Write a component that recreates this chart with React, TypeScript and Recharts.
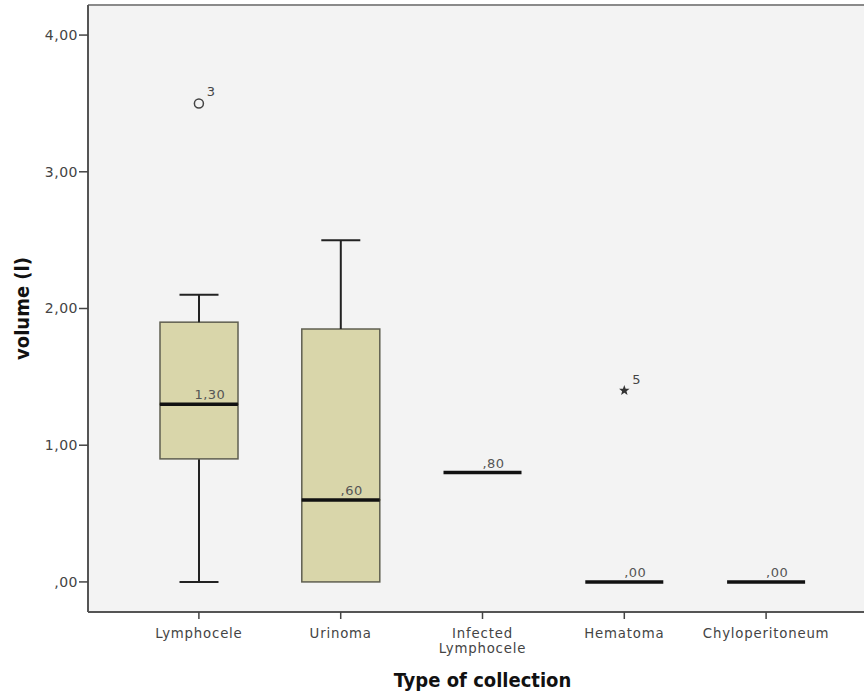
import { ComposedChart, Bar, Scatter, XAxis, YAxis, CartesianGrid, ReferenceLine, Label } from "recharts";

// one box per collection type, values in litres
const categories = ["Lymphocele", "Urinoma", "Infected\nLymphocele", "Hematoma", "Chyloperitoneum"];
const whiskerLow = [0, 0, 0.8, 0, 0];
const q1 = [0.9, 0, 0.8, 0, 0];
const medians = [1.3, 0.6, 0.8, 0, 0];
const q3 = [1.9, 1.85, 0.8, 0, 0];
const whiskerHigh = [2.1, 2.5, 0.8, 0, 0];
const outliers: (number | null)[] = [3.5, null, null, 1.4, null];
const outlierCase = ["3", "", "", "5", ""];
const outlierKind = ["circle", "", "", "star", ""];
const yTicks = [0, 1, 2, 3, 4];
const yDomain: [number, number] = [-0.22, 4.22];

const FONT = "'DejaVu Sans', Verdana, sans-serif";
const TITLE_FONT = "'DejaVu Sans Condensed', 'Liberation Sans Narrow', 'DejaVu Sans', sans-serif";
const BOX_W = 78;
const CAP_W = 39;

const fmt = (v: number) => {
  const s = v.toFixed(2).replace(".", ",");
  return s.startsWith("0,") ? s.slice(1) : s;
};

const data = categories.map((name, i) => ({
  name,
  base: whiskerLow[i],
  lowW: q1[i] - whiskerLow[i],
  boxLo: medians[i] - q1[i],
  boxHi: q3[i] - medians[i],
  upW: whiskerHigh[i] - q3[i],
  median: medians[i],
  outlier: outliers[i],
  caseNo: outlierCase[i],
  kind: outlierKind[i],
}));

const Empty = () => <g />;

const BoxShape = (p: any) => {
  if (!p.height || p.height <= 0.5) return <g />;
  return <rect x={p.x} y={p.y} width={p.width} height={p.height} fill="#d9d6aa" stroke="#5f5f50" strokeWidth={1.5} />;
};

const whisker = (capAtTop: boolean) => (p: any) => {
  if (!p.height || p.height <= 0.5) return <g />;
  const cx = p.x + p.width / 2;
  const capY = capAtTop ? p.y : p.y + p.height;
  return (
    <g stroke="#222" strokeWidth={2}>
      <line x1={cx} y1={p.y} x2={cx} y2={p.y + p.height} />
      <line x1={cx - CAP_W / 2} y1={capY} x2={cx + CAP_W / 2} y2={capY} />
    </g>
  );
};

const MedianShape = (p: any) => {
  if (!Number.isFinite(p.cy)) return <g />;
  return (
    <g>
      <line x1={p.cx - BOX_W / 2} y1={p.cy} x2={p.cx + BOX_W / 2} y2={p.cy} stroke="#111" strokeWidth={3.5} />
      <text x={p.cx + 11} y={p.cy - 5} textAnchor="middle" fill="#555" fontSize={13} fontFamily={FONT} letterSpacing={0.5}>
        {fmt(p.payload.median)}
      </text>
    </g>
  );
};

const OutlierShape = (p: any) => {
  if (!Number.isFinite(p.cy) || p.payload.outlier == null) return <g />;
  const { cx, cy } = p;
  let mark;
  if (p.payload.kind === "star") {
    const pts: string[] = [];
    for (let k = 0; k < 10; k++) {
      const r = k % 2 === 0 ? 5.5 : 2.3;
      const a = -Math.PI / 2 + (k * Math.PI) / 5;
      pts.push(`${cx + r * Math.cos(a)},${cy + r * Math.sin(a)}`);
    }
    mark = <polygon points={pts.join(" ")} fill="#333" />;
  } else {
    mark = <circle cx={cx} cy={cy} r={4.5} fill="none" stroke="#444" strokeWidth={1.5} />;
  }
  return (
    <g>
      {mark}
      <text x={cx + 12} y={cy - 7} textAnchor="middle" fill="#444" fontSize={13} fontFamily={FONT}>
        {p.payload.caseNo}
      </text>
    </g>
  );
};

const CategoryTick = (p: any) => {
  const lines = String(p.payload.value).split("\n");
  return (
    <text x={p.x} y={p.y} textAnchor="middle" fill="#444" fontSize={13.3} fontFamily={FONT} letterSpacing={0.8}>
      {lines.map((l, i) => (
        <tspan key={i} x={p.x} dy={i === 0 ? 16.5 : 15}>
          {l}
        </tspan>
      ))}
    </text>
  );
};

export default function App() {
  return (
    <div style={{ position: "absolute", left: 0, top: 0, width: 864, height: 694, overflow: "hidden", background: "#fff" }}>
      <ComposedChart width={880} height={694} data={data} margin={{ top: 5, right: 3, bottom: 0, left: 0 }}>
        <CartesianGrid fill="#f3f3f3" vertical={false} horizontal={false} />
        <XAxis
          dataKey="name"
          height={82}
          padding={{ left: 40, right: 40 }}
          axisLine={{ stroke: "#555", strokeWidth: 2 }}
          tickLine={{ stroke: "#444", strokeWidth: 1.5 }}
          tickSize={7}
          tick={<CategoryTick />}
          interval={0}
        >
          <Label
            content={(props: any) => {
              const vb = props.viewBox;
              return (
                <text x={vb.x + vb.width / 2} y={687} textAnchor="middle" fill="#111" fontSize={20} fontWeight="bold" fontFamily={TITLE_FONT}>
                  Type of collection
                </text>
              );
            }}
          />
        </XAxis>
        <YAxis
          type="number"
          width={88}
          domain={yDomain}
          ticks={yTicks}
          allowDataOverflow
          tickFormatter={fmt}
          axisLine={{ stroke: "#555", strokeWidth: 2 }}
          tickLine={{ stroke: "#444", strokeWidth: 1.5 }}
          tickSize={9}
          tickMargin={1}
          tick={{ fill: "#444", fontSize: 14, fontFamily: FONT, letterSpacing: 0.5 }}
        >
          <Label
            content={(props: any) => {
              const vb = props.viewBox;
              const cy = vb.y + vb.height / 2;
              return (
                <text x={22} y={cy} transform={`rotate(-90, 22, ${cy})`} textAnchor="middle" dominantBaseline="central" fill="#111" fontSize={20} fontWeight="bold" fontFamily={TITLE_FONT}>
                  volume (l)
                </text>
              );
            }}
          />
        </YAxis>
        <ReferenceLine y={yDomain[1]} stroke="#8a8a8a" strokeWidth={2} ifOverflow="visible" />
        <Bar dataKey="base" stackId="box" barSize={BOX_W} shape={<Empty />} isAnimationActive={false} />
        <Bar dataKey="lowW" stackId="box" barSize={BOX_W} shape={whisker(false)} isAnimationActive={false} />
        <Bar dataKey="boxLo" stackId="box" barSize={BOX_W} shape={BoxShape} isAnimationActive={false} />
        <Bar dataKey="boxHi" stackId="box" barSize={BOX_W} shape={BoxShape} isAnimationActive={false} />
        <Bar dataKey="upW" stackId="box" barSize={BOX_W} shape={whisker(true)} isAnimationActive={false} />
        <Scatter dataKey="median" shape={MedianShape} isAnimationActive={false} />
        <Scatter dataKey="outlier" shape={OutlierShape} isAnimationActive={false} />
      </ComposedChart>
    </div>
  );
}
